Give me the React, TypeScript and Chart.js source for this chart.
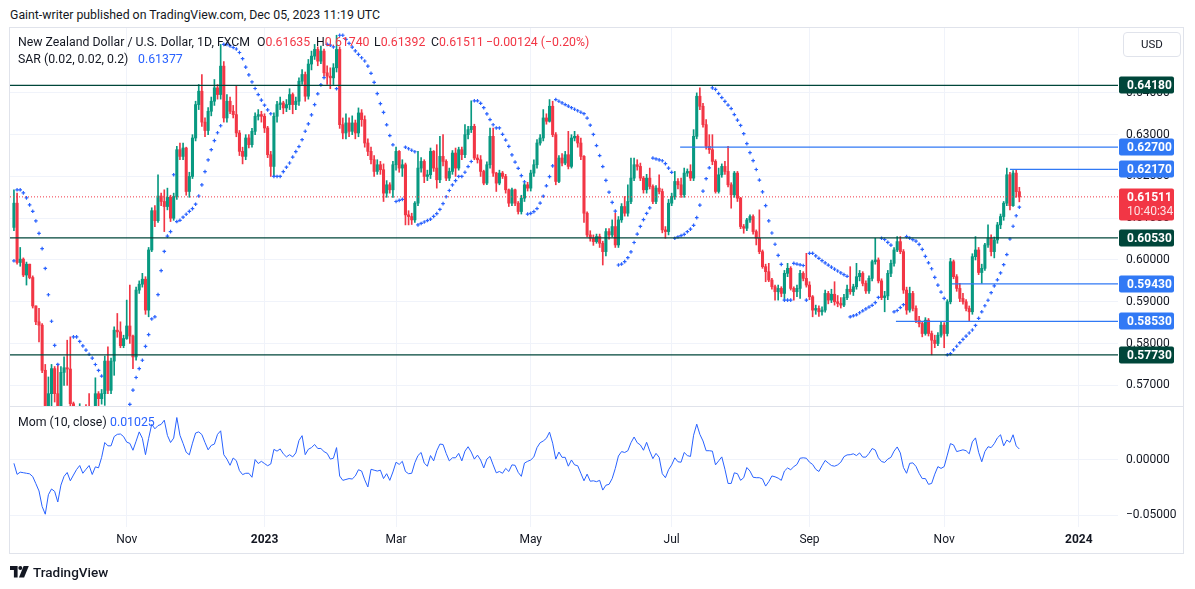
import React, { useEffect, useRef } from 'react';
import { Chart, registerables } from 'chart.js';

Chart.register(...registerables);

// ---------------- data ----------------
const firstOpen = 0.6078;
const closes = [
0.6136,0.5994,0.6002,0.5964,0.5990,0.5958,0.5890,0.5852,0.5844,0.5736,
0.5646,0.5680,0.5740,0.5680,0.5610,0.5731,0.5742,0.5739,0.5656,0.5600,
0.5560,0.5630,0.5620,0.5596,0.5560,0.5600,0.5680,0.5668,0.5680,0.5758,
0.5688,0.5758,0.5832,0.5828,0.5795,0.5812,0.5842,0.5818,0.5768,0.5928,
0.5942,0.5954,0.5880,0.6024,0.6118,0.6094,0.6153,0.6140,0.6128,0.6150,
0.6100,0.6152,0.6264,0.6248,0.6268,0.6164,0.6200,0.6292,0.6372,0.6404,
0.6330,0.6310,0.6356,0.6380,0.6412,0.6396,0.6464,0.6340,0.6380,0.6356,
0.6348,0.6304,0.6260,0.6248,0.6292,0.6276,0.6308,0.6344,0.6348,0.6344,
0.6316,0.6252,0.6224,0.6344,0.6372,0.6376,0.6364,0.6372,0.6396,0.6372,
0.6380,0.6428,0.6444,0.6392,0.6469,0.6488,0.6504,0.6476,0.6500,0.6448,
0.6440,0.6436,0.6460,0.6504,0.6324,0.6304,0.6328,0.6308,0.6328,0.6304,
0.6352,0.6336,0.6280,0.6260,0.6240,0.6212,0.6228,0.6216,0.6160,0.6180,
0.6168,0.6228,0.6260,0.6220,0.6228,0.6108,0.6104,0.6096,0.6136,0.6220,
0.6236,0.6200,0.6204,0.6260,0.6220,0.6192,0.6248,0.6236,0.6196,0.6212,
0.6256,0.6220,0.6264,0.6252,0.6300,0.6312,0.6320,0.6244,0.6240,0.6212,
0.6184,0.6228,0.6296,0.6208,0.6184,0.6208,0.6200,0.6168,0.6136,0.6168,
0.6136,0.6116,0.6148,0.6180,0.6172,0.6208,0.6228,0.6280,0.6292,0.6340,
0.6332,0.6368,0.6300,0.6188,0.6244,0.6232,0.6252,0.6224,0.6292,0.6296,
0.6280,0.6248,0.6112,0.6060,0.6052,0.6044,0.6056,0.6040,0.6020,0.6068,
0.6060,0.6080,0.6036,0.6096,0.6128,0.6112,0.6140,0.6196,0.6228,0.6224,
0.6196,0.6168,0.6196,0.6176,0.6140,0.6172,0.6164,0.6072,0.6068,0.6136,
0.6152,0.6188,0.6180,0.6156,0.6208,0.6212,0.6196,0.6296,0.6392,0.6368,
0.6324,0.6272,0.6264,0.6236,0.6164,0.6204,0.6224,0.6212,0.6180,0.6156,
0.6208,0.6148,0.6080,0.6076,0.6096,0.6104,0.6068,0.6052,0.6020,0.5984,
0.5972,0.5952,0.5936,0.5924,0.5932,0.5920,0.5968,0.5980,0.5932,0.5924,
0.5932,0.5968,0.5956,0.5940,0.5912,0.5880,0.5884,0.5876,0.5880,0.5920,
0.5904,0.5918,0.5900,0.5896,0.5892,0.5910,0.5930,0.5924,0.5936,0.5960,
0.5968,0.5944,0.5926,0.5956,0.5996,0.6000,0.5950,0.5910,0.5914,0.5968,
0.5992,0.6024,0.6044,0.6020,0.5928,0.5880,0.5920,0.5884,0.5856,0.5848,
0.5824,0.5856,0.5824,0.5808,0.5800,0.5820,0.5844,0.5824,0.5900,0.5996,
0.5960,0.5932,0.5908,0.5900,0.5884,0.5876,0.6008,0.6024,0.5970,0.5980,
0.6036,0.6052,0.6020,0.6048,0.6084,0.6104,0.6136,0.6204,0.6130,0.6208,
0.61635,0.61511
];
const highs = [
0.6168,0.6160,0.6030,0.6005,0.5995,0.5990,0.5962,0.5890,0.5884,0.5848,
0.5750,0.5720,0.5750,0.5745,0.5748,0.5745,0.5768,0.5808,0.5816,0.5660,
0.5620,0.5656,0.5650,0.5654,0.5680,0.5640,0.5718,0.5685,0.5690,0.5770,
0.5792,0.5765,0.5840,0.5872,0.5852,0.5820,0.5904,0.5940,0.5820,0.5935,
0.5950,0.5968,0.5960,0.6030,0.6125,0.6130,0.6204,0.6160,0.6168,0.6172,
0.6155,0.6160,0.6272,0.6280,0.6280,0.6270,0.6210,0.6300,0.6380,0.6420,
0.6444,0.6340,0.6365,0.6390,0.6432,0.6420,0.6516,0.6475,0.6396,0.6390,
0.6370,0.6416,0.6310,0.6270,0.6300,0.6300,0.6315,0.6352,0.6360,0.6356,
0.6350,0.6320,0.6260,0.6352,0.6380,0.6390,0.6380,0.6384,0.6410,0.6400,
0.6390,0.6436,0.6456,0.6450,0.6480,0.6500,0.6516,0.6510,0.6512,0.6505,
0.6465,0.6460,0.6470,0.6538,0.6510,0.6340,0.6350,0.6340,0.6345,0.6335,
0.6364,0.6360,0.6345,0.6290,0.6270,0.6250,0.6240,0.6236,0.6230,0.6190,
0.6185,0.6236,0.6270,0.6262,0.6240,0.6232,0.6118,0.6112,0.6140,0.6260,
0.6245,0.6240,0.6215,0.6268,0.6262,0.6276,0.6296,0.6300,0.6240,0.6220,
0.6262,0.6268,0.6270,0.6270,0.6324,0.6320,0.6381,0.6325,0.6252,0.6250,
0.6215,0.6235,0.6316,0.6316,0.6210,0.6215,0.6212,0.6205,0.6170,0.6172,
0.6170,0.6140,0.6155,0.6185,0.6186,0.6215,0.6240,0.6288,0.6300,0.6360,
0.6350,0.6384,0.6380,0.6305,0.6250,0.6255,0.6260,0.6308,0.6300,0.6308,
0.6300,0.6292,0.6250,0.6115,0.6070,0.6060,0.6062,0.6062,0.6045,0.6075,
0.6075,0.6096,0.6112,0.6104,0.6135,0.6152,0.6180,0.6244,0.6244,0.6240,
0.6232,0.6200,0.6205,0.6220,0.6180,0.6178,0.6204,0.6170,0.6080,0.6145,
0.6160,0.6212,0.6195,0.6196,0.6220,0.6218,0.6228,0.6312,0.6400,0.6412,
0.6375,0.6336,0.6300,0.6300,0.6240,0.6220,0.6230,0.6236,0.6272,0.6185,
0.6212,0.6212,0.6150,0.6085,0.6100,0.6108,0.6108,0.6072,0.6120,0.6024,
0.5990,0.5992,0.5956,0.5940,0.5940,0.5936,0.5975,0.5992,0.5984,0.5936,
0.5940,0.5975,0.5972,0.6016,0.5948,0.5915,0.5892,0.5890,0.5888,0.5928,
0.5925,0.5930,0.5948,0.5915,0.5910,0.5918,0.5940,0.5984,0.5942,0.5992,
0.5975,0.5972,0.5950,0.5962,0.6000,0.6052,0.6005,0.5955,0.5925,0.5975,
0.6000,0.6030,0.6056,0.6056,0.6025,0.5935,0.5935,0.5925,0.5890,0.5865,
0.5852,0.5862,0.5860,0.5830,0.5820,0.5826,0.5852,0.5850,0.5905,0.6004,
0.6000,0.5965,0.5944,0.5920,0.5905,0.5890,0.6015,0.6056,0.6030,0.5990,
0.6040,0.6084,0.6060,0.6055,0.6090,0.6110,0.6140,0.6220,0.6210,0.6214,
0.6217,0.6174
];
const lows = [
0.6070,0.5990,0.5985,0.5960,0.5940,0.5955,0.5885,0.5845,0.5804,0.5730,
0.5630,0.5600,0.5565,0.5660,0.5600,0.5600,0.5700,0.5700,0.5645,0.5585,
0.5540,0.5540,0.5580,0.5575,0.5540,0.5512,0.5590,0.5650,0.5655,0.5652,
0.5680,0.5680,0.5724,0.5815,0.5790,0.5790,0.5810,0.5800,0.5740,0.5760,
0.5920,0.5935,0.5870,0.5864,0.6020,0.6080,0.6090,0.6130,0.6068,0.6120,
0.6092,0.6095,0.6145,0.6240,0.6240,0.6155,0.6150,0.6195,0.6285,0.6360,
0.6320,0.6295,0.6300,0.6345,0.6370,0.6385,0.6385,0.6330,0.6330,0.6350,
0.6340,0.6295,0.6250,0.6230,0.6240,0.6268,0.6270,0.6300,0.6335,0.6330,
0.6305,0.6245,0.6200,0.6200,0.6330,0.6360,0.6350,0.6355,0.6360,0.6350,
0.6360,0.6370,0.6420,0.6380,0.6385,0.6455,0.6480,0.6465,0.6470,0.6440,
0.6420,0.6410,0.6420,0.6450,0.6315,0.6290,0.6290,0.6295,0.6300,0.6290,
0.6295,0.6320,0.6270,0.6250,0.6230,0.6200,0.6205,0.6205,0.6140,0.6150,
0.6160,0.6150,0.6215,0.6210,0.6200,0.6084,0.6084,0.6085,0.6090,0.6130,
0.6210,0.6185,0.6190,0.6195,0.6212,0.6172,0.6185,0.6225,0.6190,0.6190,
0.6205,0.6200,0.6215,0.6240,0.6245,0.6290,0.6305,0.6240,0.6232,0.6200,
0.6180,0.6180,0.6220,0.6200,0.6164,0.6180,0.6195,0.6160,0.6128,0.6130,
0.6130,0.6110,0.6110,0.6140,0.6165,0.6165,0.6200,0.6220,0.6275,0.6285,
0.6325,0.6330,0.6295,0.6180,0.6185,0.6225,0.6228,0.6218,0.6220,0.6285,
0.6270,0.6240,0.6090,0.6055,0.6045,0.6035,0.6040,0.6030,0.5988,0.6010,
0.6050,0.6055,0.6030,0.6030,0.6090,0.6105,0.6105,0.6135,0.6190,0.6215,
0.6190,0.6160,0.6160,0.6170,0.6135,0.6135,0.6158,0.6065,0.6052,0.6060,
0.6130,0.6145,0.6170,0.6150,0.6150,0.6200,0.6190,0.6190,0.6290,0.6360,
0.6318,0.6265,0.6255,0.6228,0.6160,0.6160,0.6198,0.6205,0.6175,0.6124,
0.6150,0.6140,0.6075,0.6064,0.6070,0.6090,0.6062,0.6036,0.6015,0.5980,
0.5948,0.5948,0.5930,0.5904,0.5904,0.5912,0.5904,0.5960,0.5928,0.5904,
0.5912,0.5908,0.5950,0.5935,0.5905,0.5864,0.5870,0.5865,0.5868,0.5875,
0.5895,0.5898,0.5892,0.5888,0.5885,0.5888,0.5905,0.5918,0.5915,0.5930,
0.5950,0.5938,0.5920,0.5920,0.5950,0.5990,0.5945,0.5905,0.5876,0.5905,
0.5960,0.5985,0.6020,0.6015,0.5920,0.5870,0.5875,0.5878,0.5850,0.5840,
0.5816,0.5820,0.5818,0.5773,0.5790,0.5795,0.5815,0.5790,0.5818,0.5895,
0.5955,0.5925,0.5900,0.5894,0.5878,0.5853,0.5870,0.6000,0.5965,0.5944,
0.5975,0.6030,0.6010,0.6005,0.6040,0.6075,0.6095,0.6130,0.6120,0.6128,
0.6150,0.61392
];
// closes of the 10 bars before the visible window (needed by Mom(10))
const momPrior = [0.6166,0.6124,0.6112,0.6079,0.6110,0.6083,0.6040,0.6066,0.6124,0.6156];
// state of the Parabolic SAR on the first visible bar
const sarSeedValue = 0.5998;
const sarSeedExtreme = 0.6164;
const sarSeedAccel = 0.2;

const monthTickIdx = [36, 80, 122, 165, 210, 254, 297, 340];
const monthTickLabels = ['Nov', '2023', 'Mar', 'May', 'Jul', 'Sep', 'Nov', '2024'];
const priceTicks = [0.57, 0.58, 0.59, 0.60, 0.61, 0.62, 0.63, 0.64];
const momTicks = [0, -0.05];

const darkLevels = [0.6418, 0.6053, 0.5773];
const blueLevels = [0.6270, 0.6217, 0.5943, 0.5853];
const blueStarts = [212.7, 318.0, 299.5, 281.6];
const lastPrice = 0.61511;
const countdown = '10:40:34';

// ---------------- style ----------------
const FONT = "Roboto, 'Noto Sans', sans-serif";
const GREEN = '#089981';
const RED = '#f23645';
const BLUE = '#2962ff';
const LBLUE = '#3179f5';
const DARK = '#00463a';
const GRID = '#f0f3fa';
const FRAME = '#e0e3eb';
const TEXT = '#131722';

const X_MIN = -1.26;
const X_MAX = 352.5;
const P_MIN = 0.56505;
const P_MAX = 0.65553;
const M_MIN = -0.06058;
const M_MAX = 0.04882;

const SAR_START = 0.02, SAR_INC = 0.02, SAR_MAX = 0.2;

function computeSar(hi: number[], lo: number[]) {
  const out: number[] = [];
  let result = sarSeedValue, maxMin = sarSeedExtreme, acc = sarSeedAccel, isBelow = true;
  out.push(result);
  for (let i = 1; i < hi.length; i++) {
    let first = false;
    result = result + acc * (maxMin - result);
    if (isBelow) {
      if (result > lo[i]) { first = true; isBelow = false; result = Math.max(hi[i], maxMin); maxMin = lo[i]; acc = SAR_START; }
    } else {
      if (result < hi[i]) { first = true; isBelow = true; result = Math.min(lo[i], maxMin); maxMin = hi[i]; acc = SAR_START; }
    }
    if (!first) {
      if (isBelow) { if (hi[i] > maxMin) { maxMin = hi[i]; acc = Math.min(acc + SAR_INC, SAR_MAX); } }
      else { if (lo[i] < maxMin) { maxMin = lo[i]; acc = Math.min(acc + SAR_INC, SAR_MAX); } }
    }
    if (isBelow) { result = Math.min(result, lo[i - 1]); if (i > 1) result = Math.min(result, lo[i - 2]); }
    else { result = Math.max(result, hi[i - 1]); if (i > 1) result = Math.max(result, hi[i - 2]); }
    out.push(result);
  }
  return out;
}

const boxPlugin = {
  id: 'priceBoxes',
  afterDraw(chart: any) {
    const { ctx, chartArea } = chart;
    const yS = chart.scales.y;
    const x0 = chartArea.right + 1;
    const w = 55;
    ctx.save();
    ctx.textBaseline = 'middle';
    ctx.textAlign = 'left';
    const box = (val: number, color: string) => {
      const py = Math.round(yS.getPixelForValue(val));
      ctx.fillStyle = color;
      ctx.beginPath();
      (ctx as any).roundRect ? (ctx as any).roundRect(x0, py - 8.5, w, 17, 2) : ctx.rect(x0, py - 8.5, w, 17);
      ctx.fill();
      ctx.fillStyle = '#ffffff';
      ctx.font = `bold 12px ${FONT}`;
      ctx.fillText(val.toFixed(5), x0 + 8, py + 0.5);
    };
    darkLevels.forEach((v) => box(v, DARK));
    blueLevels.forEach((v) => box(v, LBLUE));
    const py = Math.round(yS.getPixelForValue(lastPrice));
    ctx.fillStyle = RED;
    ctx.beginPath();
    (ctx as any).roundRect ? (ctx as any).roundRect(x0, py - 8.5, w, 32, 2) : ctx.rect(x0, py - 8.5, w, 32);
    ctx.fill();
    ctx.fillStyle = '#ffffff';
    ctx.font = `bold 12px ${FONT}`;
    ctx.fillText(lastPrice.toFixed(5), x0 + 8, py + 0.5);
    ctx.fillStyle = 'rgba(255,255,255,0.85)';
    ctx.font = `12px ${FONT}`;
    ctx.fillText(countdown, x0 + 8, py + 14.5);
    ctx.restore();
  },
};

const noPadY = (w: number) => (s: any) => { s.width = w; s.paddingTop = 0; s.paddingBottom = 0; s.paddingLeft = 0; s.paddingRight = 0; };
const noPadX = (h: number) => (s: any) => { s.height = h; s.paddingTop = 0; s.paddingBottom = 0; s.paddingLeft = 0; s.paddingRight = 0; };

function fitArea(ch: any, wantTop: number, wantBottom: number) {
  for (let k = 0; k < 3; k++) {
    const ca = ch.chartArea;
    const dTop = ca.top - wantTop;
    const dBot = wantBottom - ca.bottom;
    if (Math.abs(dTop) < 0.5 && Math.abs(dBot) < 0.5) break;
    const p = ch.options.layout.padding;
    p.top -= dTop;
    p.bottom -= dBot;
    ch.update();
  }
}

export default function App() {
  const topRef = useRef<HTMLCanvasElement>(null);
  const botRef = useRef<HTMLCanvasElement>(null);

  useEffect(() => {
    Chart.defaults.font.family = FONT;
    const opens = closes.map((_, i) => (i === 0 ? firstOpen : closes[i - 1]));
    const hi = closes.map((c, i) => Math.max(highs[i], c, opens[i]));
    const lo = closes.map((c, i) => Math.min(lows[i], c, opens[i]));
    const sar = computeSar(hi, lo);
    const allCloses = momPrior.concat(closes);
    const mom = closes.map((c, i) => c - allCloses[i]);
    const colors = closes.map((c, i) => (c >= opens[i] ? GREEN : RED));

    const levelSets: any[] = [];
    darkLevels.forEach((v) => levelSets.push({
      type: 'line', data: [{ x: X_MIN, y: v }, { x: X_MAX, y: v }],
      borderColor: DARK, borderWidth: 1.2, pointRadius: 0,
    }));
    blueLevels.forEach((v, k) => levelSets.push({
      type: 'line', data: [{ x: blueStarts[k], y: v }, { x: X_MAX, y: v }],
      borderColor: LBLUE, borderWidth: 1.2, pointRadius: 0,
    }));

    const top = new Chart(topRef.current as HTMLCanvasElement, {
      type: 'bar',
      data: {
        datasets: [
          ...levelSets,
          {
            type: 'line', data: [{ x: X_MIN, y: lastPrice }, { x: X_MAX, y: lastPrice }],
            borderColor: RED, borderWidth: 1, borderDash: [1, 2], pointRadius: 0,
          },
          {
            type: 'line', data: sar.map((v, i) => ({ x: i, y: v })), showLine: false,
            pointStyle: 'cross', pointRadius: 1.8, pointBorderWidth: 1.2,
            pointBorderColor: BLUE, pointBackgroundColor: BLUE,
          },
          {
            type: 'bar', data: closes.map((c, i) => ({ x: i, y: [opens[i], c] })),
            backgroundColor: colors, barThickness: 2.4, grouped: false, minBarLength: 1, borderWidth: 0,
          },
          {
            type: 'bar', data: closes.map((_, i) => ({ x: i, y: [lo[i], hi[i]] })),
            backgroundColor: colors, barThickness: 1, grouped: false, borderWidth: 0,
          },
        ] as any,
      },
      options: {
        animation: false,
        responsive: false,
        events: [],
        layout: { autoPadding: false, padding: { top: 28, left: 10, right: 12, bottom: 0 } },
        plugins: { legend: { display: false }, tooltip: { enabled: false }, title: { display: false } },
        scales: {
          x: {
            type: 'linear', min: X_MIN, max: X_MAX, offset: false,
            grid: { color: GRID, drawTicks: false, offset: false },
            border: { display: false },
            ticks: { display: false, padding: 0 },
            afterBuildTicks: (s: any) => { s.ticks = monthTickIdx.map((v) => ({ value: v })); },
            afterFit: noPadX(0),
          },
          y: {
            type: 'linear', position: 'right', min: P_MIN, max: P_MAX,
            grid: { color: GRID, drawTicks: false },
            border: { display: false },
            ticks: { padding: 8, color: TEXT, font: { size: 12 }, callback: (v: any) => Number(v).toFixed(5) },
            afterBuildTicks: (s: any) => { s.ticks = priceTicks.map((v) => ({ value: v })); },
            afterFit: noPadY(65),
          },
        },
      } as any,
      plugins: [boxPlugin],
    });
    fitArea(top, 28, 406);

    const bot = new Chart(botRef.current as HTMLCanvasElement, {
      type: 'line',
      data: {
        datasets: [{
          data: mom.map((v, i) => ({ x: i, y: v })),
          borderColor: BLUE, borderWidth: 1, pointRadius: 0, tension: 0,
        }],
      },
      options: {
        animation: false,
        responsive: false,
        events: [],
        layout: { autoPadding: false, padding: { top: 0, left: 10, right: 12, bottom: 36 } },
        plugins: { legend: { display: false }, tooltip: { enabled: false }, title: { display: false } },
        scales: {
          x: {
            type: 'linear', min: X_MIN, max: X_MAX, offset: false,
            grid: { color: GRID, drawTicks: false },
            border: { display: false },
            ticks: {
              padding: 6, color: TEXT, autoSkip: false, maxRotation: 0,
              font: (c: any) => ({ size: 12, weight: /^\d{4}$/.test(c?.tick?.label ?? '') ? 'bold' : 'normal' }),
              callback: (_v: any, i: number) => monthTickLabels[i],
            },
            afterBuildTicks: (s: any) => { s.ticks = monthTickIdx.map((v) => ({ value: v })); },
            afterFit: noPadX(26),
          },
          y: {
            type: 'linear', position: 'right', min: M_MIN, max: M_MAX,
            grid: { color: GRID, drawTicks: false },
            border: { display: false },
            ticks: {
              padding: 8, color: TEXT, font: { size: 12 },
              callback: (v: any) => (Number(v) < 0 ? '\u2212' : '') + Math.abs(Number(v)).toFixed(5),
            },
            afterBuildTicks: (s: any) => { s.ticks = momTicks.map((v) => ({ value: v })); },
            afterFit: noPadY(65),
          },
        },
      } as any,
    });
    fitArea(bot, 0, 121);

    return () => { top.destroy(); bot.destroy(); };
  }, []);

  const txt = (left: number, top: number, content: React.ReactNode, extra: React.CSSProperties = {}) => (
    <div style={{ position: 'absolute', left, top, height: 16, lineHeight: '16px', whiteSpace: 'nowrap', fontFamily: FONT, fontSize: 12, color: TEXT, ...extra }}>{content}</div>
  );

  return (
    <div style={{ position: 'absolute', left: 0, top: 0, width: 1195, height: 589, background: '#ffffff', overflow: 'hidden' }}>
      {txt(10, 7, 'Gaint-writer published on TradingView.com, Dec 05, 2023 11:19 UTC', { fontSize: 12.3 })}
      <div style={{ position: 'absolute', left: 9, top: 27, width: 1175, height: 527, border: `1px solid ${FRAME}`, boxSizing: 'border-box' }} />
      <canvas ref={topRef} width={1195} height={406} style={{ position: 'absolute', left: 0, top: 0, width: 1195, height: 406 }} />
      <canvas ref={botRef} width={1195} height={183} style={{ position: 'absolute', left: 0, top: 406, width: 1195, height: 183 }} />
      <div style={{ position: 'absolute', left: 10, top: 406, width: 1173, height: 1, background: FRAME }} />
      {txt(18, 34, 'New Zealand Dollar / U.S. Dollar, 1D, FXCM', { fontSize: 12.3 })}
      {txt(257, 34, <span>O<span style={{ color: RED }}>0.61635</span></span>, { fontSize: 12.3 })}
      {txt(316, 34, <span>H<span style={{ color: RED }}>0.61740</span></span>, { fontSize: 12.3 })}
      {txt(374, 34, <span>L<span style={{ color: RED }}>0.61392</span></span>, { fontSize: 12.3 })}
      {txt(431, 34, <span>C<span style={{ color: RED }}>0.61511</span></span>, { fontSize: 12.3 })}
      {txt(486, 34, '\u22120.00124 (\u22120.20%)', { fontSize: 12.3, color: RED })}
      {txt(18, 51, 'SAR (0.02, 0.02, 0.2)', { fontSize: 12.3 })}
      {txt(138, 51, '0.61377', { fontSize: 12.3, color: BLUE })}
      {txt(18, 414, 'Mom (10, close)', { fontSize: 12.3 })}
      {txt(110, 414, '0.01025', { fontSize: 12.3, color: BLUE })}
      <div style={{ position: 'absolute', left: 1123, top: 32, width: 58, height: 25, border: `1px solid ${FRAME}`, borderRadius: 4, boxSizing: 'border-box', fontFamily: FONT, fontSize: 11.5, color: TEXT, textAlign: 'center', lineHeight: '23px' }}>USD</div>
      <svg style={{ position: 'absolute', left: 10, top: 566 }} width="19" height="12" viewBox="0 0 19 12">
        <path d="M0 0h7.6v11.6H3.9V3.9H0z" fill={TEXT} />
        <circle cx="10.3" cy="2" r="2" fill={TEXT} />
        <path d="M13.6 0h5.2l-4.7 11.6H9z" fill={TEXT} />
      </svg>
      {txt(33, 564, 'TradingView', { fontSize: 13.5, fontWeight: 500 })}
    </div>
  );
}
